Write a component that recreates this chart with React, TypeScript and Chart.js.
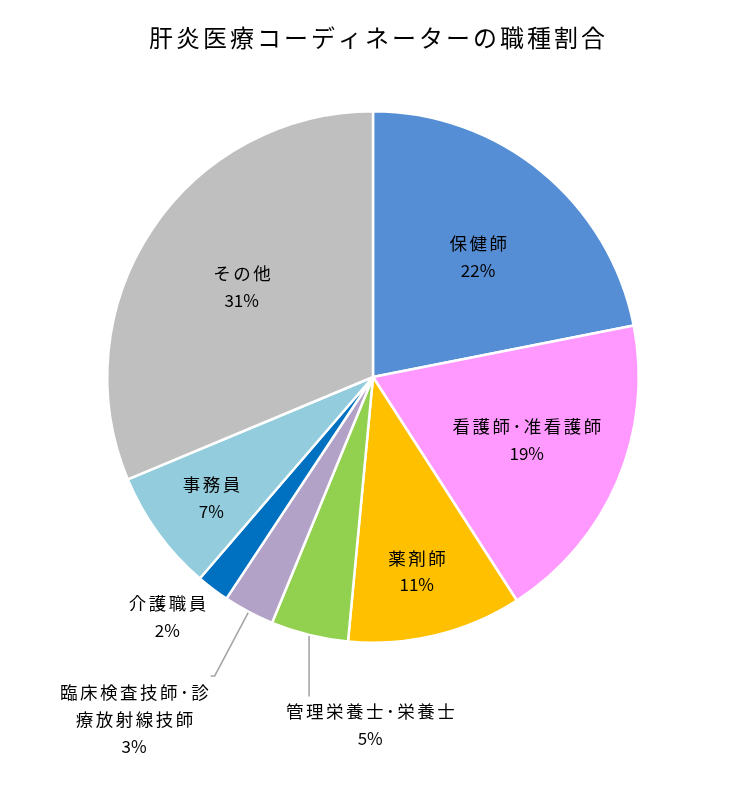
import React, { useEffect, useRef } from 'react';
import { Chart, registerables } from 'chart.js';

Chart.register(...registerables);

const title = '肝炎医療コーディネーターの職種割合';
const categories = [
  '保健師',
  '看護師･准看護師',
  '薬剤師',
  '管理栄養士･栄養士',
  '臨床検査技師･診\n療放射線技師',
  '介護職員',
  '事務員',
  'その他',
];
const values = [21.9, 19.0, 10.6, 4.7, 3.1, 2.0, 7.4, 31.3];
const colors = ['#558ED5', '#FF99FF', '#FFC000', '#92D050', '#B3A2C7', '#0070C0', '#93CDDD', '#BFBFBF'];

// label placement: radius as fraction of outer radius, angular offset (deg) from slice middle
const labelPlacement = [
  { r: 0.6, off: 1.8 },
  { r: 0.625, off: -0.8 },
  { r: 0.75, off: 1.0 },
  { r: 1.308, off: -13.4, leader: 'vertical' },
  { r: 1.571, off: 7.0, leader: 'radial' },
  { r: 1.19, off: 3.5 },
  { r: 0.76, off: -0.8 },
  { r: 0.6, off: 0.9 },
];

const FONT = '"Noto Sans CJK JP", "Noto Sans", sans-serif';

const labelPlugin = {
  id: 'pieLabels',
  afterDraw(chart: any) {
    const ctx = chart.ctx as CanvasRenderingContext2D;
    const meta = chart.getDatasetMeta(0);
    const data = chart.data.datasets[0].data as number[];
    const total = data.reduce((a, b) => a + b, 0);
    ctx.save();
    // title
    ctx.fillStyle = '#000';
    ctx.font = `24px ${FONT}`;
    (ctx as any).letterSpacing = '3px';
    ctx.textAlign = 'center';
    ctx.textBaseline = 'middle';
    ctx.fillText(title, chart.width / 2 + 1, 38);

    const lineH = 27;
    meta.data.forEach((arc: any, i: number) => {
      const p = labelPlacement[i];
      const mid = (arc.startAngle + arc.endAngle) / 2;
      const a = mid + (p.off * Math.PI) / 180;
      const R = arc.outerRadius;
      const lx = arc.x + Math.cos(a) * R * p.r;
      const ly = arc.y + Math.sin(a) * R * p.r;
      const lines = String(chart.data.labels[i]).split('\n');
      const pct = Math.round((data[i] / total) * 100) + '%';
      const h = (lines.length + 1) * lineH;
      // leader lines
      if (p.leader) {
        ctx.strokeStyle = '#A6A6A6';
        ctx.lineWidth = 1.6;
        const sx = arc.x + Math.cos(mid) * (R + 1);
        const sy = arc.y + Math.sin(mid) * (R + 1);
        ctx.beginPath();
        ctx.moveTo(sx, sy);
        if (p.leader === 'vertical') {
          ctx.lineTo(sx, ly - h / 2 - 1);
        } else {
          const ex = arc.x + Math.cos(mid) * R * 1.273;
          const ey = arc.y + Math.sin(mid) * R * 1.273;
          ctx.lineTo(ex, ey);
          ctx.lineTo(ex - 4, ey);
        }
        ctx.stroke();
      }
      ctx.fillStyle = '#000';
      ctx.font = `17.5px ${FONT}`;
      (ctx as any).letterSpacing = '2.5px';
      lines.forEach((t, k) => {
        ctx.fillText(t, lx + 1.5, ly - h / 2 + lineH / 2 + k * lineH);
      });
      ctx.font = `17px ${FONT}`;
      (ctx as any).letterSpacing = '0px';
      ctx.fillText(pct, lx, ly - h / 2 + lineH / 2 + lines.length * lineH);
    });
    ctx.restore();
  },
};

export default function App() {
  const ref = useRef<HTMLCanvasElement>(null);
  useEffect(() => {
    document.body.style.margin = '0';
    const chart = new Chart(ref.current!, {
      type: 'pie',
      data: {
        labels: categories,
        datasets: [
          {
            data: values,
            backgroundColor: colors,
            borderColor: '#FFFFFF',
            borderWidth: 2.5,
          },
        ],
      },
      options: {
        responsive: false,
        animation: false,
        layout: { padding: { left: 106, right: 115, top: 110, bottom: 144 } },
        plugins: {
          legend: { display: false },
          tooltip: { enabled: false },
          title: { display: false },
        },
      },
      plugins: [labelPlugin],
    });
    return () => chart.destroy();
  }, []);
  return (
    <div style={{ width: 755, height: 788, background: '#fff' }}>
      <canvas ref={ref} width={755} height={788} />
    </div>
  );
}
